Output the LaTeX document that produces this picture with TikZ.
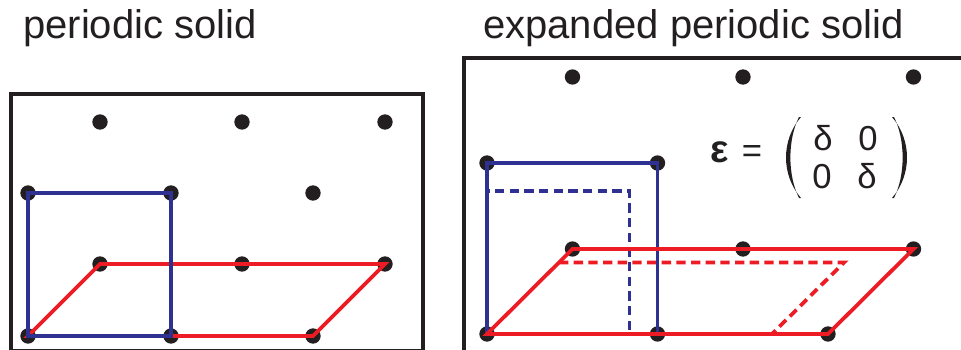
\documentclass[tikz,border=0pt]{standalone}
\usepackage{fontspec}
\setmainfont{Liberation Sans}
\definecolor{cellblue}{RGB}{46,49,146}
\definecolor{cellred}{RGB}{237,28,36}
\definecolor{ink}{RGB}{35,31,32}
\tikzset{
  site/.style={circle,fill=ink,inner sep=0pt,minimum size=11.5pt},
  frame/.style={draw=ink,line width=3.3pt},
  cell/.style={line width=2.8pt},
  strained/.style={cell,dash pattern=on 7pt off 4pt},
  title/.style={anchor=base west,inner sep=0pt,text=ink,
    font=\fontsize{30pt}{33pt}\selectfont},
  entry/.style={anchor=base,inner sep=0pt,text=ink,
    font=\fontsize{26pt}{28pt}\selectfont},
  paren/.style={fill=ink},
}
\begin{document}
\begin{tikzpicture}[x=0.75pt,y=-0.75pt]
  \useasboundingbox (0,0) rectangle (961,350);
  \node[title] (t1) at (23,38) {periodic solid};
  \node[title] (t2) at (483,38) {expanded periodic solid};
  \draw[frame] (11,94) rectangle (423,351);
  \draw[frame] (464,352) -- (464,58) -- (965,58);
  % periodic solid
  \foreach \n/\x/\y in {a1/100/122,a2/242/122,a3/385/122,
      b1/28/193,b2/171/193,b3/313/193,
      c1/100/264,c2/242/264,c3/385/264,
      d1/28/336,d2/171/336,d3/313/336}
    \node[site] (\n) at (\x,\y) {};
  \draw[cell,cellred] (d1.center) -- (c1.center) -- (c3.center)
    -- (d3.center) -- cycle;
  \draw[cell,cellblue] (d1.center) -- (d2.center) -- (b2.center)
    -- (b1.center) -- cycle;
  % expanded periodic solid
  \foreach \n/\x/\y in {e1/572.5/77,e2/743/77,e3/913.5/77,
      f1/487/163,f2/657.5/163,
      g1/572.5/249,g2/743/249,g3/913.5/249,
      h1/487/334,h2/657.5/334,h3/828/334}
    \node[site] (\n) at (\x,\y) {};
  \coordinate (q1) at (629.5,334);
  \coordinate (q2) at (629.5,191);
  \coordinate (q3) at (487,191);
  \coordinate (r1) at (559,262.5);
  \coordinate (r2) at (844,262.5);
  \coordinate (r3) at (772,334);
  \begin{scope}[strained]
    \draw[cellblue] (h1.center) -- (q1) -- (q2) -- (q3) -- cycle;
    \draw[cellred] (r1) -- (r2) -- (r3);
  \end{scope}
  \draw[cell,cellblue] (h1.center) -- (h2.center) -- (f2.center)
    -- (f1.center) -- cycle;
  \draw[cell,cellred] (h1.center) -- (g1.center) -- (g3.center)
    -- (h3.center) -- cycle;
  % strain
  \node[entry,font=\fontsize{29pt}{30pt}\selectfont\bfseries] (eps) at (720,162) {ε};
  \node[entry] (eq) at (752,162) {=};
  \node[entry] (m11) at (823,150) {δ};
  \node[entry] (m12) at (868,150) {0};
  \node[entry] (m21) at (822,188) {0};
  \node[entry] (m22) at (867,188) {δ};
  \fill[paren] (801,117) .. controls (781,140) and (781,175) .. (801,198)
    -- (799,198) .. controls (787.5,175) and (787.5,140) .. (799,117) -- cycle;
  \fill[paren] (892,117) .. controls (912,140) and (912,175) .. (892,198)
    -- (894,198) .. controls (905.5,175) and (905.5,140) .. (894,117) -- cycle;
\end{tikzpicture}
\end{document}
